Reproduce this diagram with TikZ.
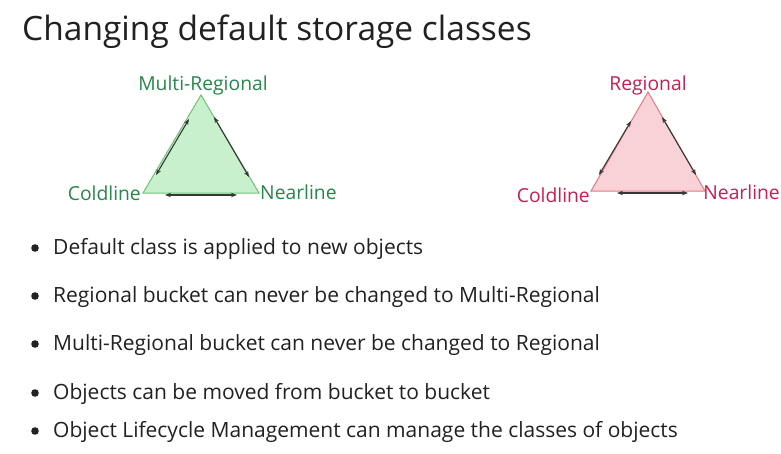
\documentclass[tikz,border=0pt]{standalone}
\usepackage{fontspec}
\setmainfont{Open Sans}
\usetikzlibrary{positioning,arrows.meta}
\definecolor{titlegray}{RGB}{33,33,33}
\definecolor{multigreen}{RGB}{38,134,76}
\definecolor{multifill}{RGB}{200,240,205}
\definecolor{multiedge}{RGB}{110,195,115}
\definecolor{regred}{RGB}{200,30,80}
\definecolor{regfill}{RGB}{248,210,215}
\definecolor{regedge}{RGB}{232,120,135}
\definecolor{arrowgray}{RGB}{55,55,55}
\tikzset{
  classlabel/.style={inner sep=0pt, font=\fontsize{19.3}{19}\selectfont},
  bulletline/.style={inner sep=0pt, anchor=base west, text=titlegray, font=\fontsize{21}{21}\selectfont},
  moveto/.style={{Stealth[length=6pt,width=4.5pt]}-{Stealth[length=6pt,width=4.5pt]}, line width=1.1pt, color=arrowgray}
}
\begin{document}
\begin{tikzpicture}[x=1pt, y=-1pt]
			%%%%% START %%%%%
			\useasboundingbox[fill=white] (0, 0) rectangle (781, 453);
			
			\node[inner sep=0pt, anchor=base west, text=titlegray, font=\fontsize{33.5}{34}\selectfont] (title) at (22, 40) {Changing default storage classes};
			
			% multi-regional bucket
			\coordinate (mtop) at (201, 95);
			\coordinate (mleft) at (143, 193);
			\coordinate (mright) at (259, 193);
			\draw[fill=multifill, draw=multiedge, line width=1pt] (mtop) -- (mleft) -- (mright) -- cycle;
			
			\node[classlabel, text=multigreen, anchor=base] (multi) at (203, 90) {Multi-Regional};
			\node[classlabel, text=multigreen, anchor=base east] (mcold) at (141, 200) {Coldline};
			\node[classlabel, text=multigreen, anchor=base west] (mnear) at (260, 199) {Nearline};
			
			\coordinate (ma1) at (156, 175);
			\coordinate (ma2) at (189, 119);
			\coordinate (mb1) at (214, 117);
			\coordinate (mb2) at (249, 177);
			\coordinate (mc1) at (165, 195);
			\coordinate (mc2) at (237, 195);
			\draw[moveto] (ma1) -- (ma2);
			\draw[moveto] (mb1) -- (mb2);
			\draw[moveto] (mc1) -- (mc2);
			
			% regional bucket
			\coordinate (rtop) at (648, 92);
			\coordinate (rleft) at (591, 191);
			\coordinate (rright) at (705, 191);
			\draw[fill=regfill, draw=regedge, line width=1pt] (rtop) -- (rleft) -- (rright) -- cycle;
			
			\node[classlabel, text=regred, anchor=base] (regional) at (648, 90) {Regional};
			\node[classlabel, text=regred, anchor=base east] (rcold) at (590, 202) {Coldline};
			\node[classlabel, text=regred, anchor=base east] (rnear) at (780, 199) {Nearline};
			
			\coordinate (ra1) at (599, 175);
			\coordinate (ra2) at (631, 121);
			\coordinate (rb1) at (662, 117);
			\coordinate (rb2) at (696, 175);
			\coordinate (rc1) at (617, 193);
			\coordinate (rc2) at (688, 193);
			\draw[moveto] (ra1) -- (ra2);
			\draw[moveto] (rb1) -- (rb2);
			\draw[moveto] (rc1) -- (rc2);
			
			% bullets
			\foreach \ypos/\txt [count=\i] in {254/Default class is applied to new objects,
			  302/Regional bucket can never be changed to Multi-Regional,
			  350/Multi-Regional bucket can never be changed to Regional,
			  399/Objects can be moved from bucket to bucket,
			  437/Object Lifecycle Management can manage the classes of objects}{
			  \fill[titlegray] (35, \ypos-6) circle (3.8);
			  \node[bulletline] (point\i) at (53, \ypos) {\txt};
			}
			
			%%%%% END %%%%%
\end{tikzpicture}
\end{document}
